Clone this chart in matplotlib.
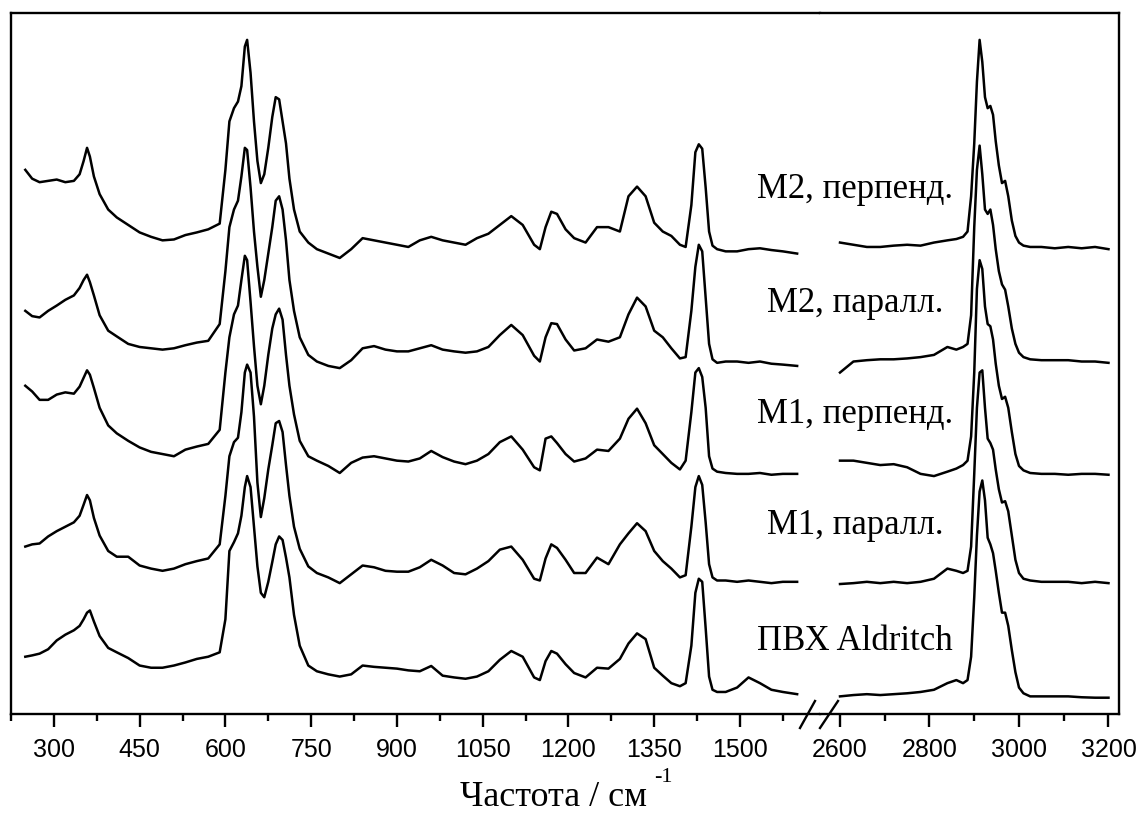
import matplotlib
matplotlib.use("Agg")
import matplotlib.pyplot as plt
from matplotlib.lines import Line2D
from matplotlib.ticker import FixedLocator

plt.rcParams["font.family"] = ["Liberation Sans", "DejaVu Sans"]

# ---------------- data (stacked Raman intensities, a.u.) ----------------
wn_low = [250, 262, 275, 290, 305, 320, 335, 345, 352, 358, 363, 370, 380, 395, 410, 430, 450, 470,
          490, 510, 530, 550, 570, 590, 600, 607, 615, 622, 628, 634, 638, 644, 650, 656, 662, 668,
          675, 682, 688, 694, 700, 706, 712, 720, 730, 745, 760, 780, 800, 820, 840, 860, 880, 900,
          920, 940, 960, 980, 1000, 1020, 1040, 1060, 1080, 1100, 1120, 1140, 1150, 1160, 1170, 1180,
          1195, 1210, 1230, 1250, 1270, 1290, 1305, 1320, 1335, 1350, 1365, 1380, 1395, 1405, 1415,
          1422, 1428, 1434, 1440, 1446, 1452, 1460, 1475, 1495, 1515, 1535, 1555, 1575, 1600]

wn_high = [2600, 2630, 2660, 2690, 2720, 2750, 2780, 2810, 2840, 2860, 2875, 2885, 2893, 2900, 2906,
           2912, 2918, 2924, 2930, 2936, 2942, 2948, 2955, 2962, 2969, 2976, 2984, 2992, 3000, 3010,
           3025, 3050, 3080, 3110, 3140, 3170, 3200]

m2_perp_low = [1235, 1215, 1207, 1210, 1213, 1207, 1210, 1225, 1255, 1285, 1265, 1220, 1180, 1145, 1127,
               1110, 1093, 1083, 1075, 1077, 1087, 1093, 1100, 1113, 1235, 1345, 1375, 1390, 1425, 1515,
               1530, 1455, 1345, 1255, 1205, 1225, 1285, 1355, 1400, 1395, 1345, 1295, 1215, 1145, 1095,
               1070, 1055, 1045, 1035, 1055, 1080, 1075, 1070, 1065,
               1060, 1075, 1083, 1075, 1070, 1065, 1080, 1090, 1110, 1130, 1110, 1065, 1055, 1105, 1140,
               1135, 1100, 1080, 1070, 1105, 1105, 1095, 1175, 1197, 1175, 1115, 1095, 1085, 1065, 1060,
               1155, 1275, 1293, 1283, 1195, 1095, 1063, 1055, 1050, 1050, 1055, 1057, 1053, 1050, 1045]
m2_perp_high = [1070, 1065, 1060, 1060, 1063, 1065, 1063, 1070, 1075, 1078, 1083, 1095, 1175, 1295, 1435,
                1530, 1480, 1400, 1375, 1380, 1360, 1300, 1245, 1205, 1210, 1175, 1120, 1085, 1070, 1063,
                1060, 1060, 1057, 1060, 1057, 1060, 1055]

m2_par_low = [915, 903, 900, 915, 927, 940, 950, 967, 985, 997, 980, 950, 905, 870, 857, 840, 833, 830,
              827, 830, 837, 843, 847, 885, 1005, 1105, 1145, 1165, 1220, 1285, 1280, 1195, 1095, 1015,
              947, 985, 1045, 1105, 1165, 1175, 1145, 1075, 985, 915, 855, 815, 800, 790, 785, 803, 830,
              835, 827, 823,
              823, 830, 837, 827, 823, 820, 823, 833, 860, 883, 860, 813, 800, 855, 887, 885, 850, 825,
              830, 850, 845, 855, 907, 945, 925, 870, 855, 830, 807, 810, 915, 1015, 1065, 1050, 945,
              840, 805, 797, 800, 800, 797, 800, 795, 793, 790]
m2_par_high = [775, 800, 803, 805, 805, 807, 810, 815, 833, 827, 833, 840, 905, 1105, 1235, 1290, 1225,
               1145, 1135, 1145, 1110, 1055, 1005, 975, 963, 925, 875, 840, 820, 810, 805, 803, 803, 803,
               800, 800, 797]

m1_perp_low = [745, 732, 713, 713, 725, 730, 727, 743, 763, 780, 770, 740, 695, 655, 637, 620, 605, 595,
               590, 585, 600, 607, 613, 645, 775, 855, 907, 927, 985, 1040, 1030, 935, 835, 745, 703,
               745, 815, 875, 907, 920, 895, 815, 745, 680, 620, 585, 575, 563, 547, 570, 582, 585, 580,
               575,
               573, 580, 597, 583, 573, 567, 575, 590, 617, 630, 600, 560, 553, 625, 630, 615, 590, 573,
               580, 600, 597, 625, 670, 693, 660, 610, 590, 570, 555, 575, 685, 775, 785, 765, 695, 585,
               557, 550, 547, 545, 545, 547, 543, 545, 545]
m1_perp_high = [575, 575, 570, 565, 567, 560, 545, 540, 550, 557, 565, 575, 630, 775, 965, 1030, 1010,
                925, 885, 880, 850, 795, 745, 715, 720, 695, 640, 590, 563, 553, 547, 545, 545, 543, 545,
                545, 543]

m1_par_low = [380, 385, 387, 403, 415, 425, 435, 450, 475, 497, 485, 445, 405, 370, 357, 357, 337, 330,
              325, 330, 340, 347, 353, 385, 495, 585, 617, 627, 685, 775, 793, 775, 675, 525, 447, 490,
              555, 610, 660, 665, 640, 565, 495, 425, 375, 335, 320, 310, 297, 317, 337, 333, 325, 323,
              323, 333, 350, 337, 320, 317, 330, 347, 373, 380, 350, 307, 303, 353, 385, 377, 350, 320,
              320, 355, 340, 385, 410, 433, 415, 370, 347, 330, 310, 315, 425, 515, 540, 520, 435, 340,
              310, 303, 303, 300, 303, 300, 297, 300, 300]
m1_par_high = [295, 297, 300, 297, 300, 297, 300, 307, 330, 325, 320, 325, 380, 545, 695, 775, 780, 695,
               625, 615, 600, 555, 510, 480, 483, 460, 405, 350, 320, 307, 303, 300, 300, 300, 297, 300,
               297]

pvc_low = [130, 133, 137, 147, 167, 180, 190, 200, 215, 230, 235, 210, 177, 150, 140, 127, 110, 105, 105,
           110, 117, 125, 130, 140, 215, 370, 390, 410, 450, 515, 540, 515, 425, 335, 275, 265, 300, 345,
           385, 403, 395, 355, 310, 225, 155, 110, 97, 90, 85, 90, 110, 107, 105, 103,
           99, 97, 109, 87, 83, 80, 85, 97, 123, 143, 130, 83, 77, 120, 143, 137, 113, 93, 83, 105, 103,
           125, 160, 183, 170, 105, 87, 70, 63, 70, 155, 275, 307, 300, 195, 85, 55, 50, 50, 60, 83, 70,
           55, 50, 45]
pvc_high = [40, 43, 45, 43, 45, 47, 50, 55, 70, 77, 70, 77, 130, 265, 405, 505, 530, 485, 400, 385, 365,
            325, 275, 230, 230, 200, 145, 95, 60, 47, 40, 40, 40, 40, 38, 37, 37]

labels = ["M2, перпенд.", "M2, паралл.", "M1, перпенд.", "M1, паралл.", "ПВХ Aldritch"]
series_low = [m2_perp_low, m2_par_low, m1_perp_low, m1_par_low, pvc_low]
series_high = [m2_perp_high, m2_par_high, m1_perp_high, m1_par_high, pvc_high]

major_low = [300, 450, 600, 750, 900, 1050, 1200, 1350, 1500]
minor_low = [225, 375, 525, 675, 825, 975, 1125, 1275, 1425, 1575]
major_high = [2600, 2800, 3000, 3200]
minor_high = [2700, 2900, 3100]
xlabel_main = "Частота / см"
xlabel_sup = "-1"

# ---------------- figure ----------------
W, H = 1143, 817
fig = plt.figure(figsize=(W / 100, H / 100), dpi=100)


def fx(px):
    return px / W


def fy(py):
    return 1 - py / H


left_px, break_px, right_px = 11, 820, 1119
top_px, bot_px = 13, 714
ax1 = fig.add_axes([fx(left_px), fy(bot_px), fx(break_px - left_px), (bot_px - top_px) / H])
ax2 = fig.add_axes([fx(break_px), fy(bot_px), fx(right_px - break_px), (bot_px - top_px) / H])

ax1.set_xlim(225, 1640)
ax2.set_xlim(2555.3, 3223.5)
ax1.xaxis.set_major_locator(FixedLocator(major_low))
ax1.xaxis.set_minor_locator(FixedLocator(minor_low))
ax2.xaxis.set_major_locator(FixedLocator(major_high))
ax2.xaxis.set_minor_locator(FixedLocator(minor_high))

for ax in (ax1, ax2):
    ax.set_ylim(0, 1591)
    ax.set_yticks([])
    for s in ax.spines.values():
        s.set_linewidth(1.7)
    ax.tick_params(axis="x", which="major", direction="out", length=9.5, width=1.7, pad=8,
                   labelsize=18, top=False)
    ax.tick_params(axis="x", which="minor", direction="out", length=5, width=1.7, top=False)

ax1.spines["right"].set_visible(False)
ax2.spines["left"].set_visible(False)

for lo, hi in zip(series_low, series_high):
    ax1.plot(wn_low, lo, color="black", lw=1.8)
    ax2.plot(wn_high, hi, color="black", lw=1.8)

# spectrum labels
label_y = [189, 303, 415, 525, 642]
for txt, py in zip(labels, label_y):
    fig.text(fx(855), fy(py), txt, ha="center", va="center", fontsize=25,
             family="Liberation Serif")

# axis break marks
for x0, x1 in [(800, 815), (820, 838)]:
    fig.add_artist(Line2D([fx(x0), fx(x1)], [fy(728), fy(701)], color="black", lw=1.7,
                          transform=fig.transFigure))

# x label
fig.text(fx(553), fy(798), xlabel_main, ha="center", va="center", fontsize=26,
         family="Liberation Serif")
fig.text(fx(654), fy(777), xlabel_sup, ha="left", va="center", fontsize=16,
         family="Liberation Serif")

fig.savefig("out.png", dpi=100)
